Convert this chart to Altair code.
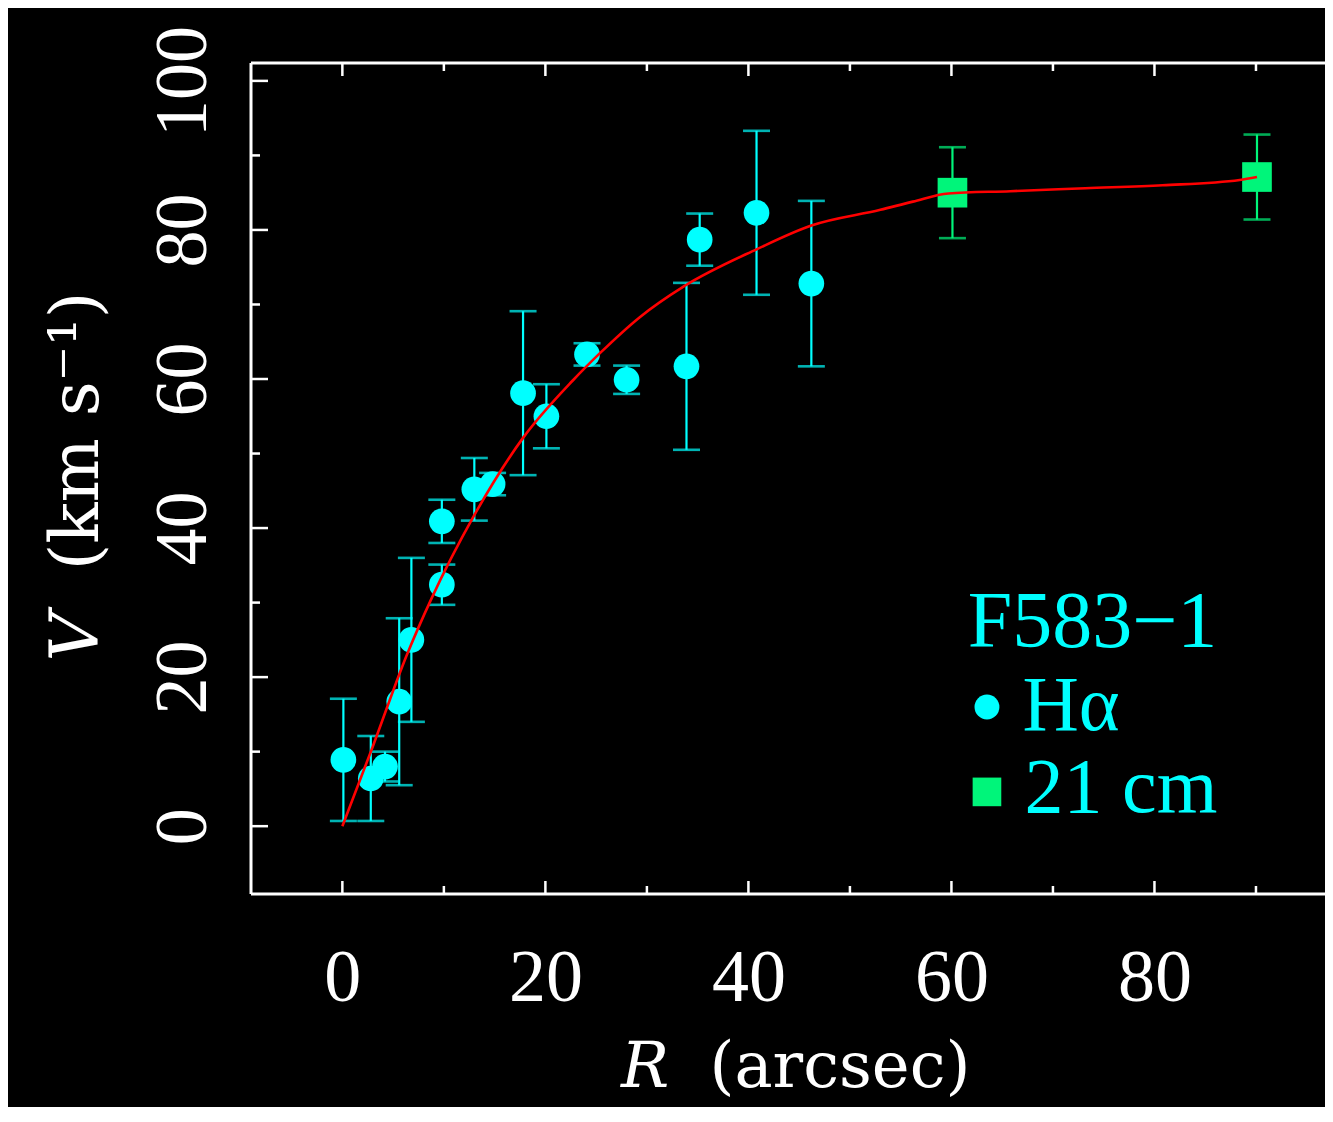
import altair as alt
import pandas as pd

# ---- data ----
# H-alpha points
ha_r = [0.1, 2.8, 4.2, 5.6, 6.8, 9.8, 9.8, 13.0, 14.8, 17.8, 20.1, 24.1, 28.0, 33.9, 35.2, 40.8, 46.2]
ha_v = [8.9, 6.4, 8.0, 16.7, 25.0, 32.4, 40.9, 45.2, 45.9, 58.1, 55.0, 63.3, 59.9, 61.7, 78.7, 82.3, 72.8]
ha_err = [8.2, 5.7, 2.0, 11.2, 11.0, 2.7, 2.9, 4.2, 1.5, 11.0, 4.3, 1.5, 1.9, 11.2, 3.5, 11.0, 11.1]

# 21 cm points
hi_r = [60.1, 90.1]
hi_v = [85.0, 87.1]
hi_err = [6.1, 5.7]

# fitted curve
fit_r = [0, 3.0, 6.3, 8.8, 12.9, 17.8, 22.7, 25.4, 29.3, 33.6, 40.8, 46.2, 53.0, 56.2, 59.7, 65.8, 73.2, 80.8, 88.4, 90.1]
fit_v = [0, 10.7, 22.8, 30.6, 41.5, 52.1, 59.8, 63.5, 68.3, 72.4, 77.4, 80.6, 82.7, 83.8, 84.9, 85.2, 85.6, 86.0, 86.7, 87.1]

# axis ticks
x_major = [0, 20, 40, 60, 80]
x_minor = [10, 30, 50, 70, 90]
y_major = [0, 20, 40, 60, 80, 100]
y_minor = [10, 30, 50, 70, 90]

# axis titles (italic symbol + unit)
x_title_parts = ["R", "(arcsec)"]
y_title_parts = ["V", "(km s⁻¹)"]

# legend
legend_title = ["F583−1"]
legend_labels = ["Hα", "21 cm"]
legend_kind = ["Hα", "21 cm"]
legend_title_pos = [(61.6, 27.3)]
legend_sym_pos = [(63.5, 16.0), (63.5, 4.6)]
legend_text_pos = [(67.0, 16.0), (67.2, 5.0)]

# ---- styling ----
W, H = 1074, 831
CYAN = "#00FFFF"
GREEN = "#00F57A"
RED = "#FF0000"
FONT = "Liberation Serif"
TFONT = "DejaVu Serif"

xs = alt.Scale(domain=[-9, 96.8], nice=False, zero=False)
ys = alt.Scale(domain=[-9.1, 102.4], nice=False, zero=False)

x_axis = alt.Axis(values=x_major, title=None, domain=False, ticks=False, tickSize=0,
                  grid=False, labelColor="white", labelFont=FONT, labelFontSize=74,
                  labelPadding=84, labelBaseline="middle", labelAlign="center", labelAngle=0,
                  labelFlush=False, labelOverlap=False)
y_axis = alt.Axis(values=y_major, title=None, domain=False, ticks=False, tickSize=0,
                  grid=False, labelColor="white", labelFont=FONT, labelFontSize=74,
                  labelPadding=68, labelBaseline="middle", labelAlign="center", labelAngle=270,
                  labelFlush=False, labelOverlap=False)


def X(field):
    return alt.X(field, type="quantitative", scale=xs, axis=x_axis)


def Y(field):
    return alt.Y(field, type="quantitative", scale=ys, axis=y_axis)


ha = pd.DataFrame({"R": ha_r, "V": ha_v, "err": ha_err})
ha["lo"] = ha["V"] - ha["err"]
ha["hi"] = ha["V"] + ha["err"]
hi = pd.DataFrame({"R": hi_r, "V": hi_v, "err": hi_err})
hi["lo"] = hi["V"] - hi["err"]
hi["hi"] = hi["V"] + hi["err"]
fit = pd.DataFrame({"R": fit_r, "V": fit_v})

ha_caps = pd.concat([ha[["R"]].assign(Y=ha["lo"]), ha[["R"]].assign(Y=ha["hi"])])
hi_caps = pd.concat([hi[["R"]].assign(Y=hi["lo"]), hi[["R"]].assign(Y=hi["hi"])])

layers = []

# error bars
for df, caps, col in [(ha, ha_caps, CYAN), (hi, hi_caps, GREEN)]:
    layers.append(alt.Chart(df).mark_rule(color=col, strokeWidth=2.2).encode(
        x=X("R"), y=Y("lo"), y2="hi"))
    layers.append(alt.Chart(caps).mark_tick(color=col, orient="horizontal", size=27, thickness=2.6).encode(
        x=X("R"), y=Y("Y")))

# points
layers.append(alt.Chart(ha).mark_point(shape="circle", filled=True, size=660, color=CYAN, opacity=1).encode(
    x=X("R"), y=Y("V")))
layers.append(alt.Chart(hi).mark_point(shape="square", filled=True, size=880, color=GREEN, opacity=1).encode(
    x=X("R"), y=Y("V")))

# fit curve
layers.append(alt.Chart(fit).mark_line(color=RED, strokeWidth=2.6, interpolate="monotone").encode(
    x=X("R"), y=Y("V")))

# legend
lt = pd.DataFrame({"R": [p[0] for p in legend_title_pos], "V": [p[1] for p in legend_title_pos], "t": legend_title})
ls = pd.DataFrame({"R": [p[0] for p in legend_sym_pos], "V": [p[1] for p in legend_sym_pos], "k": legend_kind})
lx = pd.DataFrame({"R": [p[0] for p in legend_text_pos], "V": [p[1] for p in legend_text_pos], "t": legend_labels})
layers.append(alt.Chart(lt).mark_text(align="left", baseline="middle", font=FONT, fontSize=80, color=CYAN).encode(
    x=X("R"), y=Y("V"), text="t"))
layers.append(alt.Chart(lx).mark_text(align="left", baseline="middle", font=FONT, fontSize=78, color=CYAN).encode(
    x=X("R"), y=Y("V"), text="t"))
layers.append(alt.Chart(ls.iloc[[0]]).mark_point(shape="circle", filled=True, size=620, color=CYAN, opacity=1).encode(
    x=X("R"), y=Y("V")))
layers.append(alt.Chart(ls.iloc[[1]]).mark_point(shape="square", filled=True, size=820, color=GREEN, opacity=1).encode(
    x=X("R"), y=Y("V")))

# inward ticks
xmaj = pd.DataFrame({"t": x_major})
xmin = pd.DataFrame({"t": x_minor})
ymaj = pd.DataFrame({"t": y_major})
ymin = pd.DataFrame({"t": y_minor})
for df, L in [(xmaj, 13), (xmin, 8)]:
    layers.append(alt.Chart(df).mark_rule(color="white", strokeWidth=2.5).encode(
        x=X("t"), y=alt.value(H), y2=alt.value(H - L)))
    layers.append(alt.Chart(df).mark_rule(color="white", strokeWidth=2.5).encode(
        x=X("t"), y=alt.value(0), y2=alt.value(L)))
for df, L in [(ymaj, 17), (ymin, 9)]:
    layers.append(alt.Chart(df).mark_rule(color="white", strokeWidth=2.5).encode(
        y=Y("t"), x=alt.value(0), x2=alt.value(L)))

# frame (top, bottom, left)
frame = pd.DataFrame({"a": [0]})
layers.append(alt.Chart(frame).mark_rule(color="white", strokeWidth=3).encode(
    x=alt.value(0), x2=alt.value(W), y=alt.value(0)))
layers.append(alt.Chart(frame).mark_rule(color="white", strokeWidth=3).encode(
    x=alt.value(0), x2=alt.value(W), y=alt.value(H)))
layers.append(alt.Chart(frame).mark_rule(color="white", strokeWidth=3).encode(
    x=alt.value(0), y=alt.value(0), y2=alt.value(H)))

# axis titles as text (italic variable name + upright unit)
layers.append(alt.Chart(frame).mark_text(font=TFONT, fontSize=64, fontStyle="italic", color="white",
                                         align="center", baseline="middle", text=x_title_parts[0]).encode(
    x=alt.value(394), y=alt.value(H + 174)))
layers.append(alt.Chart(frame).mark_text(font=TFONT, fontSize=64, color="white",
                                         align="center", baseline="middle", text=x_title_parts[1]).encode(
    x=alt.value(589), y=alt.value(H + 174)))
layers.append(alt.Chart(frame).mark_text(font=TFONT, fontSize=68, fontStyle="italic", color="white", angle=270,
                                         align="center", baseline="middle", text=y_title_parts[0]).encode(
    x=alt.value(-173), y=alt.value(574)))
layers.append(alt.Chart(frame).mark_text(font=TFONT, fontSize=68, color="white", angle=270,
                                         align="center", baseline="middle", text=y_title_parts[1]).encode(
    x=alt.value(-173), y=alt.value(368)))

chart = alt.layer(*layers).properties(
    width=W, height=H,
    autosize=alt.AutoSizeParams(type="none"),
    padding={"left": 243, "top": 55, "right": 0, "bottom": 213},
).configure(background="black").configure_view(stroke=None)

chart.save("out.html", embed_options={"renderer": "svg", "actions": False})
